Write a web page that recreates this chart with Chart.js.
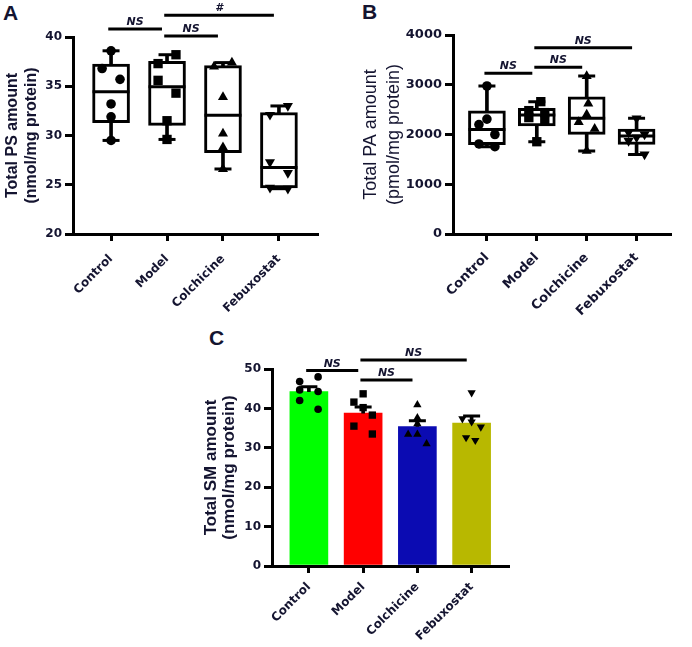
<!DOCTYPE html>
<html>
<head>
<meta charset="utf-8">
<script src="https://cdn.jsdelivr.net/npm/chart.js@4.4.1/dist/chart.umd.min.js"></script>
<style>
  body { margin: 0; background: #fff; width: 692px; height: 647px; position: relative; overflow: hidden; }
  .panel { position: absolute; }
  .tag { position: absolute; font: bold 21px "Liberation Sans", Arial, sans-serif; line-height: 1; color: #141430; }
</style>
</head>
<body>
<div class="tag" style="left:3px;top:2px">A</div>
<div class="tag" style="left:362px;top:1px">B</div>
<div class="tag" style="left:209px;top:327px">C</div>

<div class="panel" style="left:0;top:0"><canvas id="chartPS" width="340" height="320"></canvas></div>
<div class="panel" style="left:340px;top:0"><canvas id="chartPA" width="352" height="320"></canvas></div>
<div class="panel" style="left:180px;top:320px"><canvas id="chartSM" width="340" height="327"></canvas></div>

<script>
const categories = ['Control', 'Model', 'Colchicine', 'Febuxostat'];

// A - total PS (nmol/mg protein), one value per animal
const psValues = [
  [38.6, 36.8, 35.7, 33.2, 31.9, 29.5],
  [38.2, 37.3, 35.6, 34.3, 31.5, 29.6],
  [37.4, 37.0, 33.9, 30.2, 28.8, 26.6],
  [33.0, 32.1, 27.3, 26.2, 24.7, 24.6]
];
const psTicks = [20, 25, 30, 35, 40];
const psSigFrom = [0, 1, 1];
const psSigTo = [1, 2, 3];
const psSigLevel = [40.8, 40.1, 42.2];
const psSigText = ['NS', 'NS', '#'];

// B - total PA (pmol/mg protein)
const paValues = [
  [2975, 2310, 2200, 2000, 1810, 1755],
  [2660, 2480, 2440, 2340, 2275, 1855],
  [3175, 2620, 2400, 2250, 2115, 1670],
  [2325, 2040, 2000, 1940, 1870, 1600]
];
const paTicks = [0, 1000, 2000, 3000, 4000];
const paSigFrom = [0, 1, 1];
const paSigTo = [1, 2, 3];
const paSigLevel = [3230, 3350, 3745];
const paSigText = ['NS', 'NS', 'NS'];

// C - total SM (nmol/mg protein)
const smValues = [
  [48.0, 46.8, 44.7, 44.3, 42.0, 39.8],
  [43.7, 41.6, 40.2, 38.3, 35.5, 33.5],
  [40.9, 37.6, 36.1, 33.4, 33.4, 31.0],
  [44.0, 37.4, 36.6, 35.3, 32.6, 31.9]
];
const smTicks = [0, 10, 20, 30, 40, 50];
const smSigFrom = [0, 1, 1];
const smSigTo = [1, 2, 3];
const smSigLevel = [49.6, 47.2, 52.3];
const smSigText = ['NS', 'NS', 'NS'];

// horizontal scatter of the dots (-1 left, 0 centre, 1 right)
const psJitter = [[0, -1, 1, 0, 0, 0], [1, -1, -1, 1, 0, 0], [1, -1, 0, 0, 0, 0], [1, -1, -1, 1, -1, 1]];
const paJitter = [[0, 0, -1, 1, -1, 1], [0.5, -1, 1, -1, 1, 0], [0, 0.2, 0, -1, 1, 0], [0, -1, 1, 0, -1, 1]];
const smJitter = [[1, -1, -1, 1, -1, 1], [0, -1, 0, 1, -1, 1], [0, 0, 0, -1, 0, 1], [0, -1, 0, 1, -0.6, 0.4]];
const barColors = ['#00ff00', '#ff0000', '#0b0bb2', '#b8b800'];

const INK = '#141430';
const SHAPES = ['circle', 'rect', 'triangle', 'triangle'];
const TURNS = [0, 0, 0, 180];
const SIG_LEAD = -0.05, SIG_TRAIL = -0.09;

// quartiles the (n+1) way, like Prism does
function quantile(arr, p) {
  const s = [...arr].sort((a, b) => a - b);
  const pos = (s.length + 1) * p - 1;
  const lo = Math.floor(pos), f = pos - lo;
  const hi = Math.min(lo + 1, s.length - 1);
  return s[lo] + f * (s[hi] - s[lo]);
}
const mean = a => a.reduce((s, v) => s + v, 0) / a.length;
const sem = a => {
  const m = mean(a);
  return Math.sqrt(a.reduce((s, v) => s + (v - m) ** 2, 0) / (a.length - 1)) / Math.sqrt(a.length);
};

const sigText = {
  id: 'sigText',
  afterDatasetsDraw(chart, args, o) {
    const { ctx, scales: { x, y } } = chart;
    ctx.save();
    ctx.font = o.font;
    ctx.fillStyle = INK;
    ctx.textAlign = 'center';
    ctx.textBaseline = 'alphabetic';
    o.text.forEach((t, k) => {
      const xm = (x.getPixelForValue(o.from[k] + SIG_LEAD) + x.getPixelForValue(o.to[k] + SIG_TRAIL)) / 2;
      ctx.fillText(t, xm, y.getPixelForValue(o.level[k]) - 4);
    });
    ctx.restore();
  }
};

function sigLines(from, to, level) {
  return from.map((f, k) => ({
    type: 'line',
    data: [{ x: f + SIG_LEAD, y: level[k] }, { x: to[k] + SIG_TRAIL, y: level[k] }],
    borderColor: '#000', borderWidth: 3, pointRadius: 0, clip: false, order: 0
  }));
}

function pointSets(values, jitter, spread, radii) {
  return values.map((g, i) => ({
    type: 'scatter',
    data: g.map((v, k) => ({ x: i + jitter[i][k] * spread, y: v })),
    pointStyle: SHAPES[i], pointRotation: TURNS[i], pointRadius: radii[i],
    pointBackgroundColor: '#000', pointBorderColor: '#000', pointBorderWidth: 0,
    clip: false, order: 1
  }));
}

function xAxis(h, size, pad) {
  return {
    type: 'linear', min: -0.68, max: 3.68, offset: false,
    afterBuildTicks: s => { s.ticks = categories.map((c, i) => ({ value: i })); },
    afterFit: s => { s.height = h; },
    ticks: {
      autoSkip: false, minRotation: 45, maxRotation: 45, padding: pad, color: INK,
      font: { family: '"DejaVu Sans", sans-serif', weight: 'bold', size: size },
      callback: (v, i) => categories[i]
    },
    grid: { display: true, offset: false, drawOnChartArea: false, drawTicks: true, tickLength: 7, lineWidth: 3, color: '#000' },
    border: { display: true, width: 3, color: '#000' }
  };
}

function yAxis(tickVals, w, size, title, tfont, tpad) {
  return {
    type: 'linear', min: tickVals[0], max: tickVals[tickVals.length - 1],
    afterBuildTicks: s => { s.ticks = tickVals.map(v => ({ value: v })); },
    afterFit: s => { s.width = w; },
    ticks: { padding: 3, color: INK, font: { family: '"DejaVu Sans", sans-serif', weight: 'bold', size: size },
      callback: v => String(v) },
    grid: { display: true, drawOnChartArea: false, drawTicks: true, tickLength: 8, lineWidth: 3, color: '#000' },
    border: { display: true, width: 3, color: '#000' },
    title: { display: true, text: title, color: INK, font: tfont, padding: { top: tpad, bottom: 0 } }
  };
}

function boxChart(id, values, jitter, ticks, sig, ax, radii) {
  const q1 = values.map(g => quantile(g, 0.25));
  const q3 = values.map(g => quantile(g, 0.75));
  const med = values.map(g => quantile(g, 0.5));
  const lo = values.map(g => Math.min(...g));
  const hi = values.map(g => Math.max(...g));
  new Chart(document.getElementById(id), {
    type: 'bar',
    data: {
      datasets: [
        { type: 'bar', data: values.map((g, i) => ({ x: i, y: [lo[i], hi[i]] })), backgroundColor: '#000',
          barThickness: 3, grouped: false, order: 5 },
        { type: 'bar', data: values.map((g, i) => ({ x: i, y: [q1[i], q3[i]] })), backgroundColor: '#fff',
          borderColor: '#000', borderWidth: 3, borderSkipped: false, barThickness: 37, grouped: false, order: 4 },
        { type: 'scatter', data: values.flatMap((g, i) => [{ x: i, y: lo[i] }, { x: i, y: hi[i] }]),
          pointStyle: 'line', pointRadius: 8.5, pointBorderWidth: 3, pointBorderColor: '#000', order: 3 },
        { type: 'scatter', data: values.map((g, i) => ({ x: i, y: med[i] })),
          pointStyle: 'line', pointRadius: 18.5, pointBorderWidth: 3, pointBorderColor: '#000', order: 3 },
        ...pointSets(values, jitter, 0.16, radii),
        ...sigLines(sig.from, sig.to, sig.level)
      ]
    },
    options: {
      responsive: false, animation: false,
      layout: { padding: ax.pad },
      scales: {
        x: xAxis(ax.xh, ax.size, ax.xpad),
        y: yAxis(ticks, ax.yw, ax.size, ax.title, ax.tfont, ax.tpad)
      },
      plugins: {
        legend: { display: false }, tooltip: { enabled: false },
        sigText: { ...sig, font: 'italic bold 11px "DejaVu Sans", sans-serif' }
      }
    },
    plugins: [sigText]
  });
}

boxChart('chartPS', psValues, psJitter, psTicks,
  { from: psSigFrom, to: psSigTo, level: psSigLevel, text: psSigText },
  { pad: { top: 37, right: 23, left: 0, bottom: 0 }, xh: 86, yw: 73, size: 12, xpad: 11,
    title: ['Total PS amount', '(nmol/mg protein)'],
    tfont: { family: '"Liberation Sans", Arial, sans-serif', weight: 'bold', size: 16, lineHeight: 1.2 }, tpad: 3 },
  [4.8, 6.6, 5.8, 5.8]);

boxChart('chartPA', paValues, paJitter, paTicks,
  { from: paSigFrom, to: paSigTo, level: paSigLevel, text: paSigText },
  { pad: { top: 35, right: 2, left: 0, bottom: 0 }, xh: 86, yw: 113, size: 13, xpad: 9,
    title: ['Total PA amount', '(pmol/mg protein)'],
    tfont: { family: '"Liberation Sans", Arial, sans-serif', weight: 'normal', size: 18, lineHeight: 1.25 }, tpad: 20 },
  [4.8, 6.6, 5.8, 5.8]);

// C - mean + SEM bars with the individual values
const smMean = smValues.map(mean);
const smTop = smValues.map((g, i) => smMean[i] + sem(g));

new Chart(document.getElementById('chartSM'), {
  type: 'bar',
  data: {
    datasets: [
      { type: 'bar', data: smMean.map((m, i) => ({ x: i, y: m })), backgroundColor: barColors,
        barThickness: 38, grouped: false, order: 5 },
      { type: 'bar', data: smMean.map((m, i) => ({ x: i, y: [m, smTop[i]] })), backgroundColor: '#000',
        barThickness: 3, grouped: false, order: 4 },
      { type: 'scatter', data: smTop.map((t, i) => ({ x: i, y: t })),
        pointStyle: 'line', pointRadius: 8.5, pointBorderWidth: 3, pointBorderColor: '#000', order: 3 },
      ...pointSets(smValues, smJitter, 0.17, [3.8, 5.2, 4.8, 4.8]),
      ...sigLines(smSigFrom, smSigTo, smSigLevel)
    ]
  },
  options: {
    responsive: false, animation: false,
    layout: { padding: { top: 49, right: 7, left: 0, bottom: 0 } },
    scales: {
      x: xAxis(81, 12, 7),
      y: yAxis(smTicks, 92, 12, ['Total SM amount', '(nmol/mg protein)'],
        { family: '"Liberation Sans", Arial, sans-serif', weight: 'bold', size: 17, lineHeight: 1.1 }, 21.6)
    },
    plugins: {
      legend: { display: false }, tooltip: { enabled: false },
      sigText: { from: smSigFrom, to: smSigTo, level: smSigLevel, text: smSigText,
        font: 'italic bold 11px "DejaVu Sans", sans-serif' }
    }
  },
  plugins: [sigText]
});
</script>
</body>
</html>
